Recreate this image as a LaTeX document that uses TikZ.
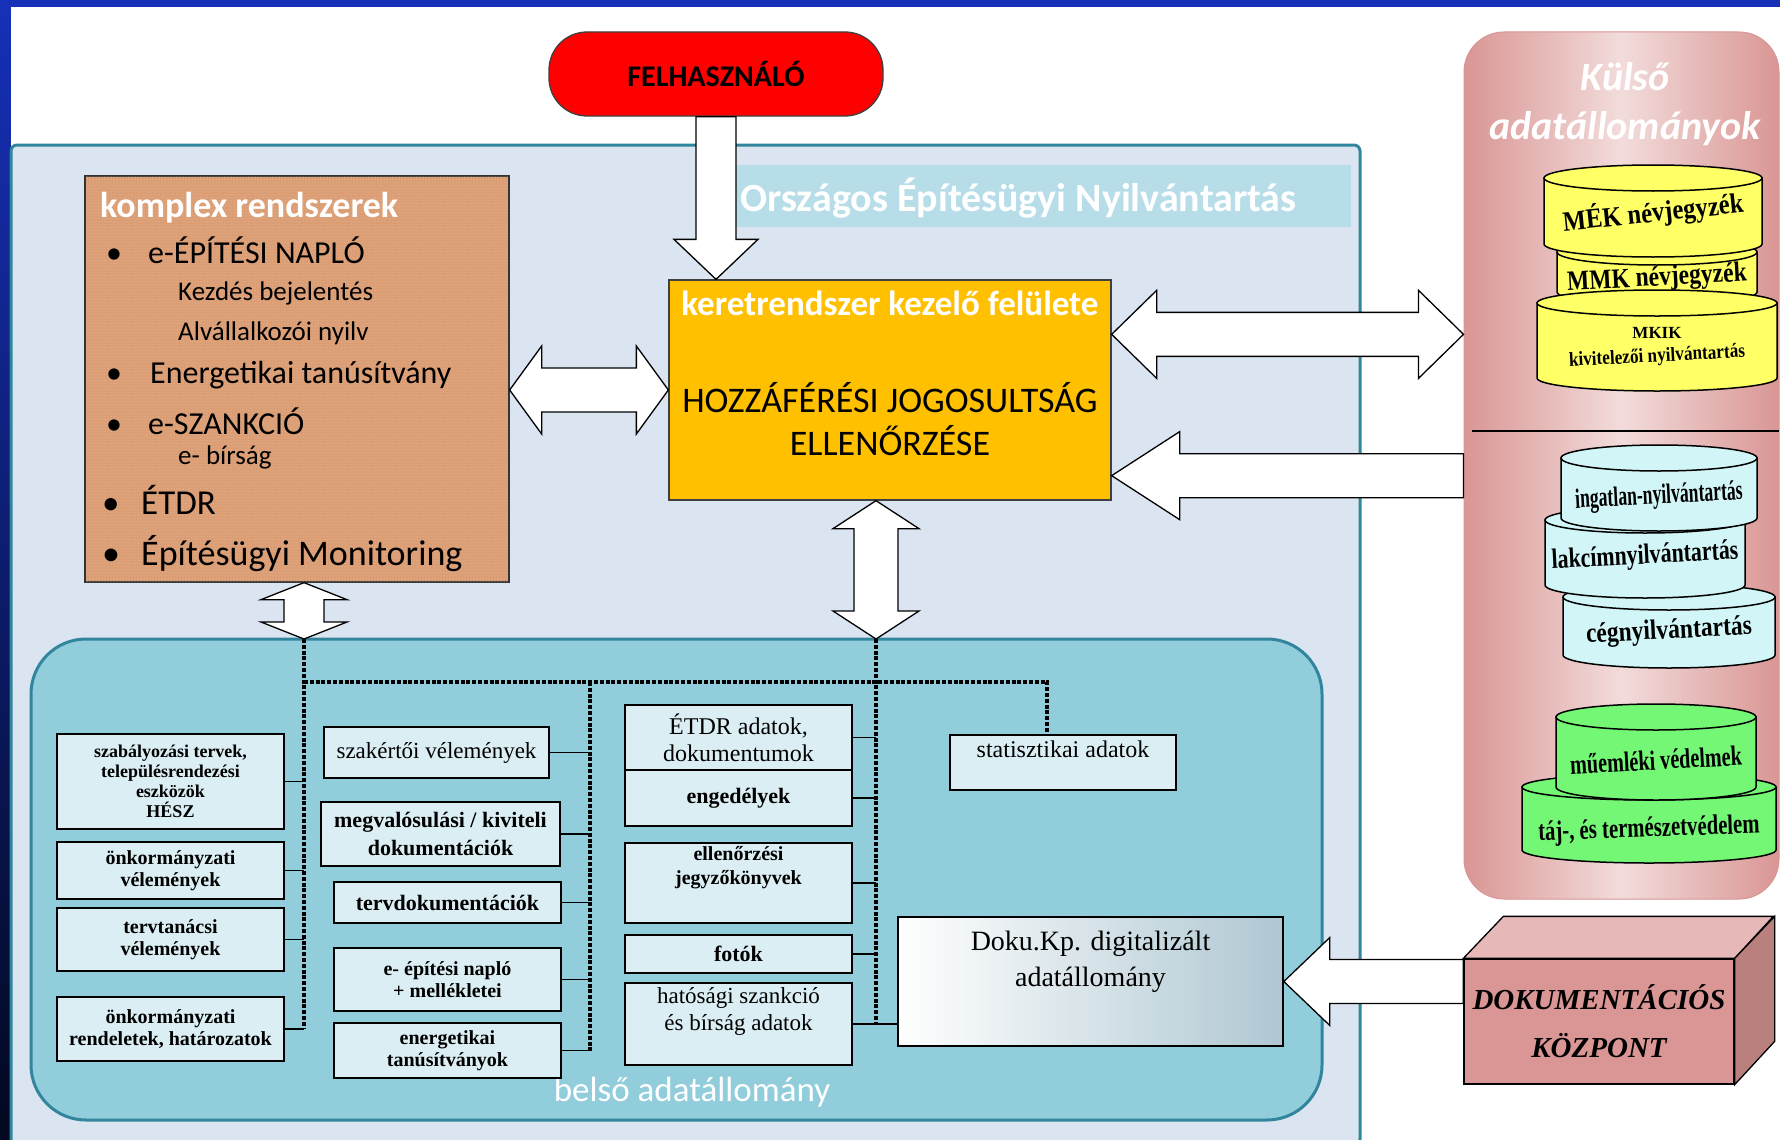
\documentclass[tikz,border=0pt]{standalone}
\usepackage{fontspec}
\usepackage{graphicx}
\setmainfont{Carlito}
\newfontfamily\tmsfont{Liberation Serif}
\usetikzlibrary{calc,patterns}

\definecolor{panelblue}{HTML}{DBE5F1}
\definecolor{bandcyan}{HTML}{B7DEE8}
\definecolor{innerteal}{HTML}{92CDDC}
\definecolor{edgeteal}{HTML}{31859C}
\definecolor{boxfill}{HTML}{DBEEF3}
\definecolor{keretorange}{HTML}{FFC000}
\definecolor{komplexbrown}{HTML}{DB9D74}
\definecolor{komplexdot}{HTML}{F0C8AC}
\definecolor{pinkedge}{HTML}{D99694}
\definecolor{pinkmid}{HTML}{F2DCDB}
\definecolor{dbyellow}{HTML}{FFFF66}
\definecolor{dbcyan}{HTML}{D2F5F7}
\definecolor{dbgreen}{HTML}{74F774}
\definecolor{dokufront}{HTML}{D99694}
\definecolor{dokutop}{HTML}{E6B9B8}
\definecolor{dokuside}{HTML}{B9807E}
\definecolor{dokugrey}{HTML}{AFC7D2}
\definecolor{slideblue}{HTML}{1630B8}
\definecolor{slidedark}{HTML}{020820}

% block arrow with two heads: tip, tip, shaft half width, head half width, head length
\newcommand{\dblarrow}[5]{%
  \coordinate (ha) at ($(#1)!#5!(#2)$);
  \coordinate (hb) at ($(#2)!#5!(#1)$);
  \filldraw[blockarrow] (#1) -- ($(ha)!#4!90:(#2)$) -- ($(ha)!#3!90:(#2)$)
    -- ($(hb)!#3!-90:(#1)$) -- ($(hb)!#4!-90:(#1)$) -- (#2)
    -- ($(hb)!#4!90:(#1)$) -- ($(hb)!#3!90:(#1)$)
    -- ($(ha)!#3!-90:(#2)$) -- ($(ha)!#4!-90:(#2)$) -- cycle;}
% block arrow with one head: tip, tail, shaft half width, head half width, head length
\newcommand{\sglarrow}[5]{%
  \coordinate (ha) at ($(#1)!#5!(#2)$);
  \filldraw[blockarrow] (#1) -- ($(ha)!#4!90:(#2)$) -- ($(ha)!#3!90:(#2)$)
    -- ($(#2)!#3!-90:(#1)$) -- ($(#2)!#3!90:(#1)$)
    -- ($(ha)!#3!-90:(#2)$) -- ($(ha)!#4!-90:(#2)$) -- cycle;}
% database disk: name, centre x, top y, bottom y, x radius, colour, text y, text
\newcommand{\dbdisk}[8]{%
  \filldraw[dbline, fill=#6] (#2-#5,#3) -- (#2-#5,#4) arc[start angle=180, end angle=0, x radius=#5, y radius=13] -- (#2+#5,#3) -- cycle;
  \filldraw[dbline, fill=#6] (#2,#3) ellipse [x radius=#5, y radius=13];
  \node[dbtext] (#1) at (#2,#7) {#8};}
\newcommand{\dbcond}[3][0]{\rotatebox{#1}{\scalebox{#2}[1]{#3}}}

\begin{document}
\begin{tikzpicture}[x=1pt,y=-1pt,
    smallbox/.style={draw=black, line width=1.6pt, fill=boxfill, align=center, inner sep=2pt,
      font=\tmsfont\bfseries\fontsize{20}{22}\selectfont},
    plainbox/.style={smallbox, font=\tmsfont\fontsize{23}{27}\selectfont},
    busline/.style={line width=3.2pt, dash pattern=on 4pt off 1.8pt},
    tapline/.style={line width=1.8pt},
    blockarrow/.style={draw=black, line width=1.3pt, fill=white, line join=miter},
    dbline/.style={draw=black, line width=1.5pt},
    dbtext/.style={font=\tmsfont\bfseries\fontsize{28}{28}\selectfont, align=center, inner sep=0pt},
    listitem/.style={anchor=west, inner sep=0pt, font=\fontsize{32}{34}\selectfont}]
    \useasboundingbox (0,0) rectangle (1780,1140);

    % Slide background
    \fill[top color=slideblue, bottom color=slidedark] (0,0) rectangle (1780,1140);
    \fill[white] (11,7) rectangle (1780,1140);

    % Országos Építésügyi Nyilvántartás
    \node[draw=edgeteal, line width=3pt, fill=panelblue, rounded corners=6, minimum width=1349, minimum height=1000] (oen) at (685.5,645) {};
    \node[fill=bandcyan, minimum width=624, minimum height=62, inner sep=0pt] (band) at (1039,196) {};
    \node[anchor=west, text=white, font=\bfseries\fontsize{40}{42}\selectfont] (oenlabel) at (737,198) {Országos Építésügyi Nyilvántartás};

    % Külső adatállományok
    \node[draw=pinkedge, line width=1pt, rounded corners=40, left color=pinkedge, right color=pinkedge, middle color=pinkmid, minimum width=315, minimum height=867] (kulso) at (1621.5,465.5) {};
    \node[text=white, align=center, font=\bfseries\itshape\fontsize{40}{49}\selectfont] (kulsotitle) at (1625,104) {Külső\\adatállományok};
    \draw[line width=2.5pt] (1472,431) -- (1779,431);
    \dbdisk{mmk}{1657}{252}{292}{100}{dbyellow}{279}{\dbcond[3]{0.84}{MMK névjegyzék}}
    \dbdisk{mek}{1653}{178}{244}{109}{dbyellow}{213}{\dbcond[6]{0.88}{MÉK névjegyzék}}
    \dbdisk{mkik}{1657}{303}{378}{120}{dbyellow}{349}{\fontsize{17}{16}\selectfont MKIK\\\fontsize{20}{16}\selectfont\dbcond[3]{0.86}{kivitelezői nyilvántartás}}
    \dbdisk{ceg}{1669}{597}{655}{106}{dbcyan}{632}{\dbcond[3]{0.84}{cégnyilvántartás}}
    \dbdisk{lakcim}{1645}{520}{585}{100}{dbcyan}{557}{\dbcond[3]{0.78}{lakcímnyilvántartás}}
    \dbdisk{ingatlan}{1659}{458}{518}{98}{dbcyan}{497}{\dbcond[3]{0.63}{ingatlan-nyilvántartás}}
    \dbdisk{taj}{1649}{787}{850}{127}{dbgreen}{830}{\dbcond[2]{0.74}{táj-, és természetvédelem}}
    \dbdisk{muemlek}{1656}{717}{787}{100}{dbgreen}{760}{\dbcond[3]{0.72}{műemléki védelmek}}

    % Felhasználó
    \node[draw=black!75, line width=1.3pt, fill=red, rounded corners=38, minimum width=334, minimum height=84, font=\bfseries\fontsize{30}{32}\selectfont] (felh) at (716,74) {FELHASZNÁLÓ};

    % komplex rendszerek
    \node[draw=black!80, line width=1.3pt, fill=komplexbrown, postaction={pattern=dots, pattern color=komplexdot}, minimum width=424, minimum height=406] (brown) at (297,379) {};
    \node[listitem, text=white, font=\bfseries\fontsize{36}{38}\selectfont] (komplex) at (100,208) {komplex rendszerek};
    \node[listitem] (kl1) at (106,250) {\makebox[42pt][l]{•}e-ÉPÍTÉSI NAPLÓ};
    \node[listitem, font=\fontsize{27}{29}\selectfont] (kl1a) at (178,293) {Kezdés bejelentés};
    \node[listitem, font=\fontsize{27}{29}\selectfont] (kl1b) at (178,333) {Alvállalkozói nyilv};
    \node[listitem] (kl2) at (106,375) {\makebox[44pt][l]{•}Energetikai tanúsítvány};
    \node[listitem] (kl3) at (106,421) {\makebox[42pt][l]{•}e-SZANKCIÓ};
    \node[listitem, font=\fontsize{27}{29}\selectfont] (kl3a) at (178,457) {e- bírság};
    \node[listitem, font=\fontsize{35}{37}\selectfont] (kl4) at (102,500) {\makebox[39pt][l]{•}ÉTDR};
    \node[listitem, font=\fontsize{36}{38}\selectfont] (kl5) at (102,554) {\makebox[39pt][l]{•}Építésügyi Monitoring};

    % keretrendszer
    \node[draw=black!75, line width=1.3pt, fill=keretorange, minimum width=442, minimum height=220] (orange) at (890,390) {};
    \node[text=white, font=\bfseries\fontsize{35}{37}\selectfont] (kerettitle) at (890,303) {keretrendszer kezelő felülete};
    \node[align=center, font=\fontsize{36}{43}\selectfont] (jogosultsag) at (890,419) {HOZZÁFÉRÉSI JOGOSULTSÁG\\ELLENŐRZÉSE};

    % belső adatállomány
    \node[draw=edgeteal, line width=3pt, fill=innerteal, rounded corners=55, minimum width=1291, minimum height=481] (belso) at (676.5,879.5) {};
    \node[text=white, font=\fontsize{35}{37}\selectfont] (belsolabel) at (692,1092) {belső adatállomány};

    % Block arrows
    \coordinate (tapA) at (304,639);
    \coordinate (tapB) at (876,639);
    \coordinate (felhTip) at (orange.north -| felh.south);
    \coordinate (brownR) at (brown.east |- orange.west);
    \coordinate (rtA) at ($(orange.north east)+(0,55)$);
    \coordinate (rtB) at (kulso.west |- rtA);
    \coordinate (ltA) at ($(orange.south east)+(0,-25)$);
    \coordinate (ltB) at (kulso.west |- ltA);
    \coordinate (brownS) at (brown.south -| tapA);
    \coordinate (orangeS) at (orange.south -| tapB);
    \sglarrow{felhTip}{felh.south}{20pt}{42pt}{40pt}
    \dblarrow{brownR}{orange.west}{22pt}{44pt}{32pt}
    \dblarrow{rtA}{rtB}{22pt}{44pt}{45pt}
    \sglarrow{ltA}{ltB}{22pt}{44pt}{68pt}
    \dblarrow{brownS}{tapA}{20pt}{43pt}{17pt}
    \dblarrow{orangeS}{tapB}{22pt}{43pt}{28pt}

    % Data boxes
    \node[smallbox, minimum width=227, minimum height=95, font=\tmsfont\bfseries\fontsize{18}{20}\selectfont] (b1) at (170.5,781.5) {szabályozási tervek,\\településrendezési\\eszközök\\HÉSZ};
    \node[smallbox, minimum width=227, minimum height=57] (b2) at (170.5,870.5) {önkormányzati\\vélemények};
    \node[smallbox, minimum width=227, minimum height=63] (b3) at (170.5,939.5) {tervtanácsi\\vélemények};
    \node[smallbox, minimum width=227, minimum height=64] (b4) at (170.5,1029) {önkormányzati\\rendeletek, határozatok};

    \node[plainbox, minimum width=225, minimum height=51] (c2a) at (436.5,752.5) {szakértői vélemények};
    \node[smallbox, minimum width=239, minimum height=64, font=\tmsfont\bfseries\fontsize{22}{28}\selectfont] (c2b) at (440.5,834) {megvalósulási / kiviteli\\dokumentációk};
    \node[smallbox, minimum width=227, minimum height=41, font=\tmsfont\bfseries\fontsize{22}{24}\selectfont] (c2c) at (447.5,902.5) {tervdokumentációk};
    \node[smallbox, minimum width=227, minimum height=63] (c2d) at (447.5,979.5) {e- építési napló\\+ mellékletei};
    \node[smallbox, minimum width=227, minimum height=55] (c2e) at (447.5,1050.5) {energetikai\\tanúsítványok};

    \node[plainbox, minimum width=227, minimum height=65, font=\tmsfont\fontsize{24}{27}\selectfont] (c3f) at (738.5,737.5) {ÉTDR adatok,\\dokumentumok};
    \node[smallbox, minimum width=227, minimum height=56, font=\tmsfont\bfseries\fontsize{22}{24}\selectfont] (c3g) at (738.5,798) {engedélyek};
    \node[smallbox, minimum width=227, minimum height=80, text depth=35pt, font=\tmsfont\bfseries\fontsize{20}{24}\selectfont] (c3h) at (738.5,883) {ellenőrzési\\jegyzőkönyvek};
    \node[smallbox, minimum width=227, minimum height=38, font=\tmsfont\bfseries\fontsize{22}{24}\selectfont] (c3i) at (738.5,954) {fotók};
    \node[plainbox, minimum width=227, minimum height=82, text depth=31pt] (c3j) at (738.5,1024) {hatósági szankció\\és bírság adatok};

    \node[plainbox, minimum width=226, minimum height=55, text depth=26pt, font=\tmsfont\fontsize{24}{26}\selectfont] (stat) at (1063,762.5) {statisztikai adatok};
    \node[smallbox, left color=white, right color=dokugrey, minimum width=385, minimum height=129, text depth=46pt, font=\tmsfont\fontsize{28}{36}\selectfont] (dokukp) at (1090.5,981.5) {Doku.Kp. digitalizált\\adatállomány};

    % Dotted bus and taps
    \coordinate (busL) at (304,682);
    \coordinate (busM) at (590,682);
    \coordinate (busR) at (1047,682);
    \draw[tapline] (b1.east) -- (b1.east -| tapA);
    \draw[tapline] (b2.east) -- (b2.east -| tapA);
    \draw[tapline] (b3.east) -- (b3.east -| tapA);
    \draw[tapline] (b4.east) -- (b4.east -| tapA);
    \draw[tapline] (c2a.east) -- (c2a.east -| busM);
    \draw[tapline] (c2b.east) -- (c2b.east -| busM);
    \draw[tapline] (c2c.east) -- (c2c.east -| busM);
    \draw[tapline] (c2d.east) -- (c2d.east -| busM);
    \draw[tapline] (c2e.east) -- (c2e.east -| busM);
    \draw[tapline] (c3f.east) -- (c3f.east -| tapB);
    \draw[tapline] (c3g.east) -- (c3g.east -| tapB);
    \draw[tapline] (c3h.east) -- (c3h.east -| tapB);
    \draw[tapline] (c3i.east) -- (c3i.east -| tapB);
    \draw[tapline] (c3j.east) -- (dokukp.west |- c3j.east);
    \draw[busline] (tapA) -- (tapA |- b4.east);
    \draw[busline] (busM) -- (busM |- c2e.east);
    \draw[busline] (tapB) -- (tapB |- c3j.east);
    \draw[busline] (busL) -- (busR) -- (busR |- stat.north);

    % Dokumentációs központ
    \node[draw=black, line width=1.3pt, fill=dokufront, minimum width=270, minimum height=125, align=center, font=\tmsfont\bfseries\itshape\fontsize{29}{48}\selectfont] (dokuc) at (1599,1021.5) {DOKUMENTÁCIÓS\\KÖZPONT};
    \filldraw[draw=black, line width=1.3pt, fill=dokutop] (dokuc.north west) -- ++(40,-42) -- ++(270,0) -- (dokuc.north east) -- cycle;
    \filldraw[draw=black, line width=1.3pt, fill=dokuside] (dokuc.north east) -- ++(40,-42) -- ++(0,125) -- (dokuc.south east) -- cycle;
    \coordinate (dokuTail) at (dokuc.west |- dokukp.east);
    \sglarrow{dokukp.east}{dokuTail}{22pt}{44pt}{46pt}
\end{tikzpicture}
\end{document}
